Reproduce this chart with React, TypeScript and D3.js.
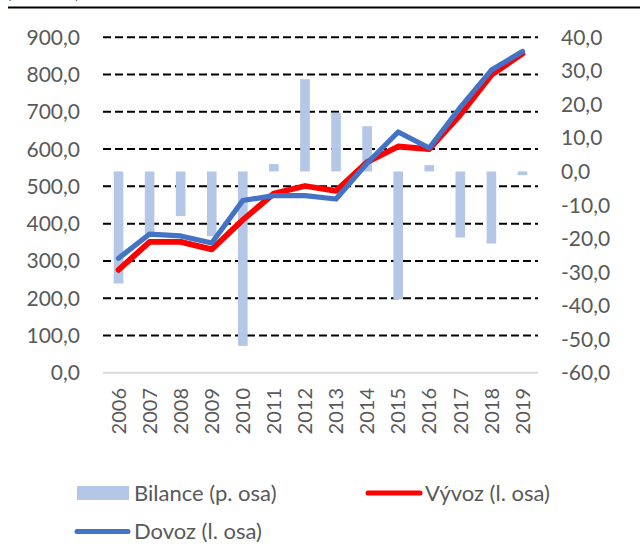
import React from "react";
import * as d3 from "d3";

const years = ["2006","2007","2008","2009","2010","2011","2012","2013","2014","2015","2016","2017","2018","2019"];
const vyvoz = [276, 351, 351, 331, 410, 481, 501, 488, 565, 607, 600, 692, 799, 856];
const dovoz = [307, 372, 367, 348, 462, 475, 475, 466, 562, 646, 603, 712, 812, 862];
const bilance = [-33.4, -18.6, -13.3, -19.3, -52, 2.2, 27.5, 17.5, 13.5, -38.1, 1.9, -19.7, -21.5, -1.1];
const leftTicks = [0, 100, 200, 300, 400, 500, 600, 700, 800, 900];
const rightTicks = [-60, -50, -40, -30, -20, -10, 0, 10, 20, 30, 40];
const unitLabel = "(mld. Kč)";
const seriesNames = ["Bilance (p. osa)", "Vývoz (l. osa)", "Dovoz (l. osa)"];

const W = 640, H = 547;
const FONT = "Lato, 'Liberation Sans', sans-serif";
const fmt = (v: number) => v.toFixed(1).replace(".", ",");

export default function App() {
  const x0 = 103, x1 = 538, yTop = 37.3, yBot = 372.7;
  const x = d3.scaleBand<string>().domain(years).range([x0, x1]).paddingInner(0.69).paddingOuter(0.345);
  const yL = d3.scaleLinear().domain([0, 900]).range([yBot, yTop]);
  const yR = d3.scaleLinear().domain([-60, 40]).range([yBot, yTop]);
  const cx = (d: string) => (x(d) as number) + x.bandwidth() / 2;
  const line = d3.line<number>().x((_, i) => cx(years[i])).y((v) => yL(v));

  return (
    <div style={{ position: "absolute", left: 0, top: 0, width: W, height: H, background: "#fff" }}>
      <svg width={W} height={H} style={{ display: "block" }} fontFamily={FONT}>
        <text x={6} y={-2} fontSize={20} fill="#000">{unitLabel}</text>
        <line x1={8} x2={W} y1={7.5} y2={7.5} stroke="#000" strokeWidth={2} />
        {leftTicks.filter((t) => t > 0).map((t) => (
          <line key={t} x1={x0} x2={x1} y1={yL(t)} y2={yL(t)} stroke="#000" strokeWidth={2} strokeDasharray="8,4" />
        ))}
        {bilance.map((v, i) => (
          <rect key={i} x={x(years[i])} width={x.bandwidth()} y={Math.min(yR(v), yR(0))}
            height={Math.abs(yR(v) - yR(0))} fill="#b4c7e7" />
        ))}
        <line x1={x0} x2={x1} y1={yBot} y2={yBot} stroke="#d9d9d9" strokeWidth={2} />
        <path d={line(vyvoz) || ""} fill="none" stroke="#ff0000" strokeWidth={5.8} strokeLinejoin="round" strokeLinecap="round" />
        <path d={line(dovoz) || ""} fill="none" stroke="#4472c4" strokeWidth={5.2} strokeLinejoin="round" strokeLinecap="round" />
        {leftTicks.map((t) => (
          <text key={t} x={80} y={yL(t)} dy="0.36em" textAnchor="end" fontSize={21} fill="#595959">{fmt(t)}</text>
        ))}
        {rightTicks.map((t) => (
          <text key={t} x={561} y={yR(t)} dy="0.36em" textAnchor="start" fontSize={21} fill="#595959">{fmt(t)}</text>
        ))}
        {years.map((yv) => (
          <text key={yv} transform={`translate(${cx(yv)},388) rotate(-90)`} dy="0.36em" textAnchor="end" fontSize={20} fill="#595959">{yv}</text>
        ))}
        <rect x={77} y={486} width={52} height={14} fill="#b4c7e7" />
        <text x={134} y={493} dy="0.36em" fontSize={22} fill="#595959">{seriesNames[0]}</text>
        <line x1={368} x2={420} y1={493} y2={493} stroke="#ff0000" strokeWidth={5} strokeLinecap="round" />
        <text x={425} y={493} dy="0.36em" fontSize={22} fill="#595959">{seriesNames[1]}</text>
        <line x1={77} x2={128} y1={531.5} y2={531.5} stroke="#4472c4" strokeWidth={5} strokeLinecap="round" />
        <text x={134} y={531.5} dy="0.36em" fontSize={22} fill="#595959">{seriesNames[2]}</text>
      </svg>
    </div>
  );
}
